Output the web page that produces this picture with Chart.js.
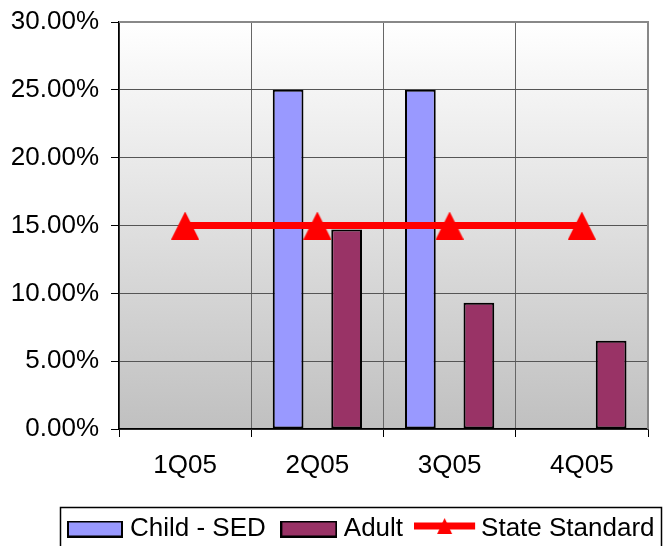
<!DOCTYPE html>
<html>
<head>
<meta charset="utf-8">
<script src="https://cdn.jsdelivr.net/npm/chart.js@4"></script>
<style>
  body { margin: 0; background: #fff; }
  #wrap { width: 670px; height: 546px; }
</style>
</head>
<body>
<div id="wrap"><canvas id="chart" width="670" height="546"></canvas></div>
<script>
// =====================
// DATA
// =====================
const quarters = ['1Q05', '2Q05', '3Q05', '4Q05'];
const childSed = [null, 25, 25, null];
const adult = [null, 14.7, 9.3, 6.5];
const stateStandard = [15, 15, 15, 15];
const yMin = 0, yMax = 30, yStep = 5;

const FONT = { family: '"Liberation Sans", Arial, sans-serif', size: 26 };

// =====================
// MARKER IMAGES
// =====================
function boxMarker(color, w, h) {
  const c = document.createElement('canvas');
  c.width = w; c.height = h;
  const x = c.getContext('2d');
  x.fillStyle = color;
  x.fillRect(0, 0, w, h);
  x.strokeStyle = '#000';
  x.lineWidth = 2;
  x.strokeRect(1, 1, w - 2, h - 2);
  return c;
}

function triangle(w, h) {
  const c = document.createElement('canvas');
  c.width = w; c.height = h;
  const x = c.getContext('2d');
  x.fillStyle = '#ff0000';
  x.beginPath();
  x.moveTo(w / 2, 0);
  x.lineTo(w, h);
  x.lineTo(0, h);
  x.closePath();
  x.fill();
  return c;
}

function lineMarker() {
  const c = document.createElement('canvas');
  c.width = 64; c.height = 24;
  const x = c.getContext('2d');
  x.fillStyle = '#ff0000';
  x.fillRect(0, 5.5, 61, 7);
  x.beginPath();
  x.moveTo(30.5, 1);
  x.lineTo(38, 17);
  x.lineTo(23, 17);
  x.closePath();
  x.fill();
  return c;
}

const legendMarks = [boxMarker('#9999ff', 56, 17), boxMarker('#993366', 57, 17), lineMarker()];
const pointTri = triangle(28, 28);

// =====================
// PLUGINS
// =====================
const plotDecor = {
  id: 'plotDecor',
  beforeInit(chart) {
    // pull the legend row a bit lower
    const fit = chart.legend.fit;
    chart.legend.fit = function() { fit.call(this); this.height -= 6; };
  },
  afterLayout(chart) {
    // legend row starts under the plot, not at the canvas edge
    const lg = chart.legend;
    lg.left = 52;
    lg.right = 700;
    lg.width = lg.right - lg.left;
  },
  beforeDraw(chart) {
    const { ctx, chartArea: a } = chart;
    const g = ctx.createLinearGradient(0, a.top, 0, a.bottom);
    g.addColorStop(0, '#ffffff');
    g.addColorStop(1, '#c0c0c0');
    ctx.save();
    ctx.fillStyle = g;
    ctx.fillRect(a.left, a.top, a.right - a.left, a.bottom - a.top);
    ctx.restore();
  },
  afterDraw(chart) {
    const { ctx, chartArea: a } = chart;
    ctx.save();
    ctx.strokeStyle = '#888';
    ctx.lineWidth = 2;
    ctx.beginPath();
    ctx.moveTo(a.left, a.top);
    ctx.lineTo(a.right, a.top);
    ctx.lineTo(a.right, a.bottom);
    ctx.stroke();
    // legend frame
    ctx.strokeStyle = '#000';
    ctx.lineWidth = 1.5;
    ctx.strokeRect(60.5, 507.5, 601, 60);
    ctx.restore();
  }
};

// =====================
// CHART
// =====================
new Chart(document.getElementById('chart'), {
  data: {
    labels: quarters,
    datasets: [
      {
        type: 'bar', label: 'Child - SED', data: childSed, order: 1,
        backgroundColor: '#9999ff', borderColor: '#000', borderWidth: 2, borderSkipped: false
      },
      {
        type: 'bar', label: 'Adult', data: adult, order: 1,
        backgroundColor: '#993366', borderColor: '#000', borderWidth: 2, borderSkipped: false
      },
      {
        type: 'line', label: 'State Standard', data: stateStandard, order: 0,
        borderColor: '#ff0000', borderWidth: 7, pointStyle: pointTri, pointRadius: 14
      }
    ]
  },
  options: {
    responsive: false,
    animation: false,
    layout: { padding: { left: 0, right: 0, top: 22, bottom: 0 } },
    datasets: { bar: { categoryPercentage: 0.885, barPercentage: 0.525 } },
    scales: {
      x: {
        grid: { color: '#666', lineWidth: 1, tickLength: 8, tickColor: '#000', offset: true },
        border: { color: '#000', width: 1.5 },
        ticks: { color: '#000', font: FONT, padding: 13, maxRotation: 0 },
        afterFit(s) { s.height = 66; }
      },
      y: {
        min: yMin, max: yMax,
        grid: { color: '#555', lineWidth: 1, tickLength: 8, tickColor: '#000' },
        border: { color: '#000', width: 1.5 },
        ticks: { stepSize: yStep, color: '#000', font: FONT, padding: 12,
                 callback: v => v.toFixed(2) + '%' },
        afterFit(s) { s.width = 119; s.paddingTop = 0; s.paddingBottom = 0; }
      },
      yR: {
        position: 'right', display: true,
        grid: { display: false }, border: { display: false }, ticks: { display: false },
        afterFit(s) { s.width = 22; }
      }
    },
    plugins: {
      tooltip: { enabled: false },
      legend: {
        position: 'bottom', align: 'start',
        labels: {
          color: '#000', font: FONT, padding: 21,
          usePointStyle: true, pointStyleWidth: 44,
          generateLabels(chart) {
            return chart.data.datasets.map((ds, i) => ({
              text: ds.label, datasetIndex: i, pointStyle: legendMarks[i],
              fontColor: '#000', lineWidth: 0, hidden: false
            }));
          }
        }
      }
    }
  },
  plugins: [plotDecor]
});
</script>
</body>
</html>
